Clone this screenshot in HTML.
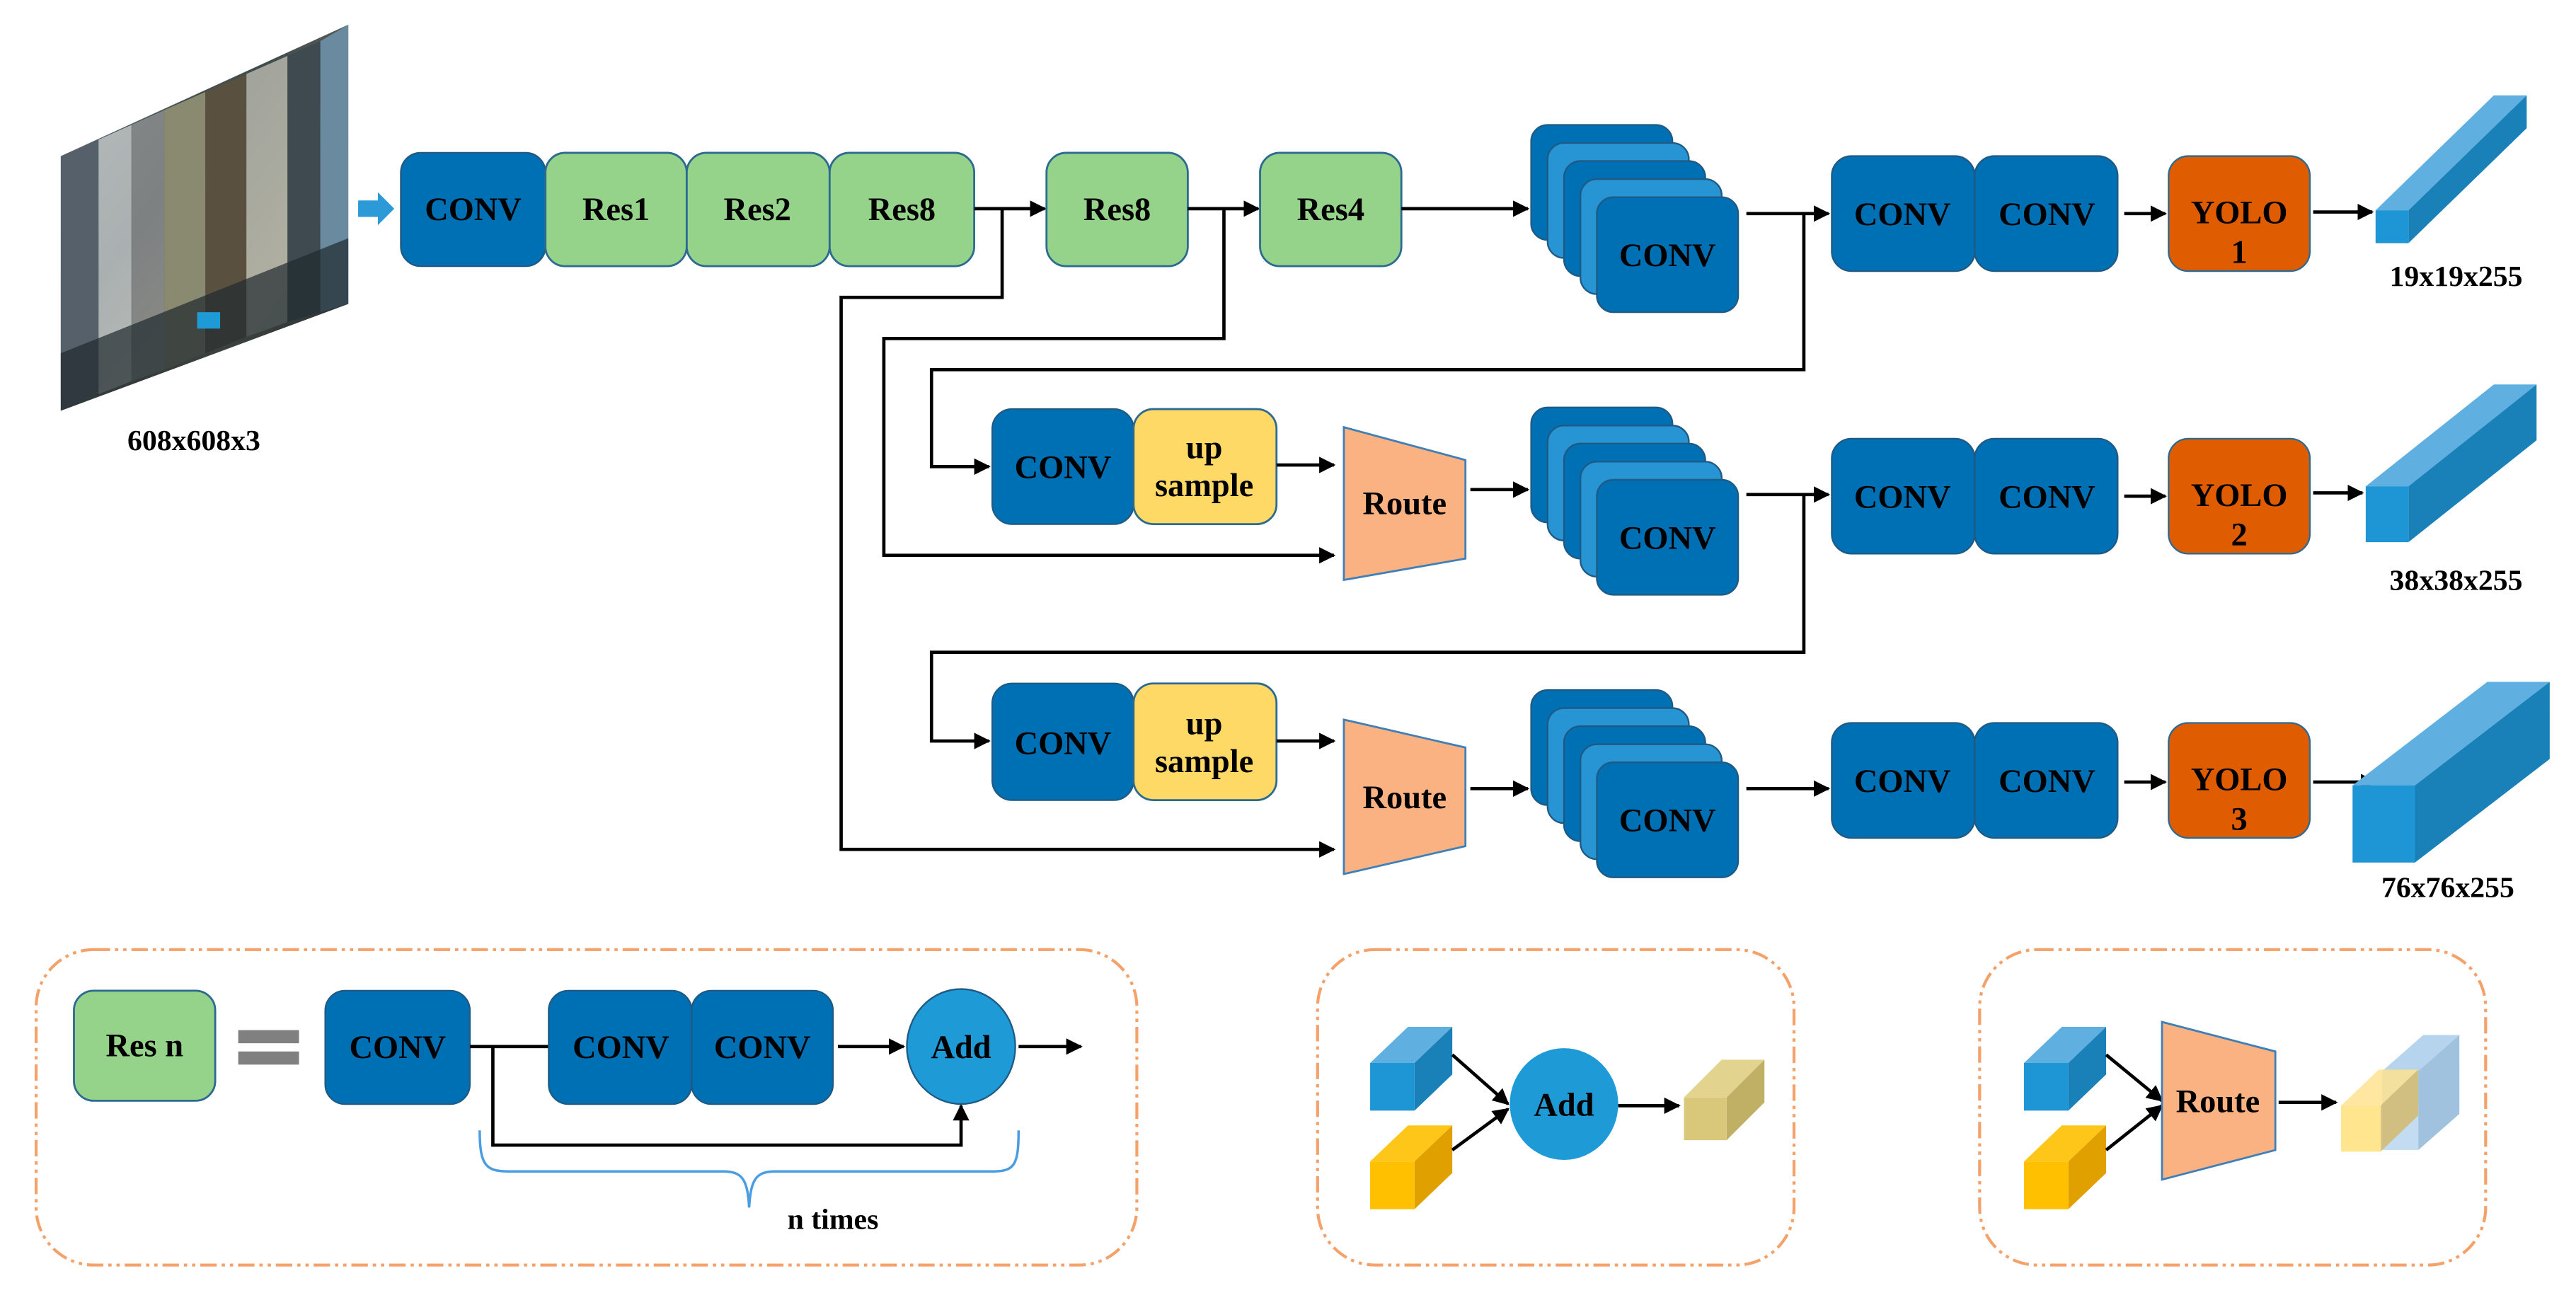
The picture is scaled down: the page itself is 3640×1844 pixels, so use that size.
<!DOCTYPE html>
<html><head><meta charset="utf-8"><style>
html,body{margin:0;padding:0;background:#fff;}
svg{display:block;}
text{font-family:"Liberation Serif",serif;font-weight:bold;fill:#000;}
</style></head><body>
<svg width="3640" height="1844" viewBox="0 0 1568 794.3" xmlns="http://www.w3.org/2000/svg">
<defs>
<marker id="ah" markerWidth="10" markerHeight="10" refX="9" refY="5" orient="auto" markerUnits="userSpaceOnUse">
<path d="M0,0 L10,5 L0,10 z" fill="#000"/></marker>
<linearGradient id="img" x1="0" y1="0" x2="1" y2="1">
<stop offset="0" stop-color="#6a7378"/><stop offset="0.4" stop-color="#3e4a4c"/><stop offset="0.7" stop-color="#7d7a66"/><stop offset="1" stop-color="#2a3234"/></linearGradient>
</defs>
<style>
.d{fill:#0070b5;stroke:#1f5a85;stroke-width:1;}
.l{fill:#2795d3;stroke:#1f5a85;stroke-width:1;}
.g{fill:#95d38a;stroke:#2c6a92;stroke-width:1.2;}
.y{fill:#ffd965;stroke:#2c6a92;stroke-width:1.2;}
.o{fill:#e05c00;stroke:#2c6a92;stroke-width:1;}
.r{fill:#fbb282;stroke:#3f7fb8;stroke-width:1.2;}
.ln{stroke:#000;stroke-width:2;fill:none;}
.t{font-size:20px;}
.lg{fill:none;stroke:#f4a16a;stroke-width:1.8;stroke-dasharray:10 3 2 3 2 3;}
</style>

<!-- input image -->
<polygon points="37,95 212,15 212,185 37,250" fill="url(#img)"/>
<polygon points="37,95 60,85 60,240 37,250" fill="#55606a"/>
<polygon points="60,85 80,76 80,232 60,240" fill="#d8dcdc" opacity="0.7"/>
<polygon points="80,76 100,67 100,225 80,232" fill="#999" opacity="0.7"/>
<polygon points="100,67 125,56 125,215 100,225" fill="#8a8a70"/>
<polygon points="125,56 150,45 150,205 125,215" fill="#5a5040"/>
<polygon points="150,45 175,34 175,196 150,205" fill="#bbbbb0" opacity="0.8"/>
<polygon points="175,34 195,25 195,190 175,196" fill="#3e4a50"/>
<polygon points="195,25 212,15 212,185 195,190" fill="#6a8aa0"/>
<polygon points="37,215 212,145 212,185 37,250" fill="#202a2e" opacity="0.7"/>
<rect x="120" y="190" width="14" height="10" fill="#1e9ad6"/>
<text x="118" y="274" text-anchor="middle" class="t" style="font-size:18px">608x608x3</text>
<polygon points="218,122 230,122 230,117 240,127 230,137 230,132 218,132" fill="#2d9ad8"/>

<!-- top row -->
<rect x="244" y="93" width="88" height="69" rx="12" class="d"/>
<rect x="332" y="93" width="86" height="69" rx="12" class="g"/>
<rect x="418" y="93" width="87" height="69" rx="12" class="g"/>
<rect x="505" y="93" width="88" height="69" rx="12" class="g"/>
<text x="288" y="134" text-anchor="middle" class="t">CONV</text>
<text x="375" y="134" text-anchor="middle" class="t">Res1</text>
<text x="461" y="134" text-anchor="middle" class="t">Res2</text>
<text x="549" y="134" text-anchor="middle" class="t">Res8</text>
<line x1="593" y1="127" x2="636" y2="127" class="ln" marker-end="url(#ah)"/>
<rect x="637" y="93" width="86" height="69" rx="12" class="g"/>
<text x="680" y="134" text-anchor="middle" class="t">Res8</text>
<line x1="723" y1="127" x2="766" y2="127" class="ln" marker-end="url(#ah)"/>
<rect x="767" y="93" width="86" height="69" rx="12" class="g"/>
<text x="810" y="134" text-anchor="middle" class="t">Res4</text>
<line x1="853" y1="127" x2="930" y2="127" class="ln" marker-end="url(#ah)"/>

<!-- branch lines -->
<polyline points="610,127 610,181 512,181 512,517 812,517" class="ln" marker-end="url(#ah)"/>
<polyline points="745,127 745,206 538,206 538,338 812,338" class="ln" marker-end="url(#ah)"/>
<polyline points="1098,130 1098,225 567,225 567,284 602,284" class="ln" marker-end="url(#ah)"/>
<polyline points="1098,301 1098,397 567,397 567,451 602,451" class="ln" marker-end="url(#ah)"/>

<!-- stacks -->
<g>
<rect x="932" y="76" width="86" height="70" rx="10" class="d"/>
<rect x="942" y="87" width="86" height="70" rx="10" class="l"/>
<rect x="952" y="98" width="86" height="70" rx="10" class="d"/>
<rect x="962" y="109" width="86" height="70" rx="10" class="l"/>
<rect x="972" y="120" width="86" height="70" rx="10" class="d"/>
<text x="1015" y="162" text-anchor="middle" class="t">CONV</text>
</g>
<g>
<rect x="932" y="248" width="86" height="70" rx="10" class="d"/>
<rect x="942" y="259" width="86" height="70" rx="10" class="l"/>
<rect x="952" y="270" width="86" height="70" rx="10" class="d"/>
<rect x="962" y="281" width="86" height="70" rx="10" class="l"/>
<rect x="972" y="292" width="86" height="70" rx="10" class="d"/>
<text x="1015" y="334" text-anchor="middle" class="t">CONV</text>
</g>
<g>
<rect x="932" y="420" width="86" height="70" rx="10" class="d"/>
<rect x="942" y="431" width="86" height="70" rx="10" class="l"/>
<rect x="952" y="442" width="86" height="70" rx="10" class="d"/>
<rect x="962" y="453" width="86" height="70" rx="10" class="l"/>
<rect x="972" y="464" width="86" height="70" rx="10" class="d"/>
<text x="1015" y="506" text-anchor="middle" class="t">CONV</text>
</g>

<!-- row 1 right -->
<line x1="1063" y1="130" x2="1113" y2="130" class="ln" marker-end="url(#ah)"/>
<rect x="1115" y="95" width="87" height="70" rx="12" class="d"/>
<rect x="1202" y="95" width="87" height="70" rx="12" class="d"/>
<text x="1158" y="137" text-anchor="middle" class="t">CONV</text>
<text x="1246" y="137" text-anchor="middle" class="t">CONV</text>
<line x1="1293" y1="130" x2="1318" y2="130" class="ln" marker-end="url(#ah)"/>
<rect x="1320" y="95" width="86" height="70" rx="12" class="o"/>
<text x="1363" y="136" text-anchor="middle" class="t">YOLO</text>
<text x="1363" y="160" text-anchor="middle" class="t">1</text>
<line x1="1408" y1="129" x2="1444" y2="129" class="ln" marker-end="url(#ah)"/>
<polygon points="1446,128 1518,58 1538,58 1466,128" fill="#5fb0e0"/>
<polygon points="1466,128 1538,58 1538,78 1466,148" fill="#1a80b8"/>
<rect x="1446" y="128" width="20" height="20" fill="#1e95d4"/>
<text x="1495" y="174" text-anchor="middle" class="t" style="font-size:18px">19x19x255</text>

<!-- row 2 -->
<rect x="604" y="249" width="86" height="70" rx="12" class="d"/>
<rect x="690" y="249" width="87" height="70" rx="12" class="y"/>
<text x="647" y="291" text-anchor="middle" class="t">CONV</text>
<text x="733" y="279" text-anchor="middle" class="t">up</text>
<text x="733" y="302" text-anchor="middle" class="t">sample</text>
<line x1="777" y1="283" x2="812" y2="283" class="ln" marker-end="url(#ah)"/>
<polygon points="818,260 892,280 892,340 818,353" class="r"/>
<text x="855" y="313" text-anchor="middle" class="t">Route</text>
<line x1="895" y1="298" x2="930" y2="298" class="ln" marker-end="url(#ah)"/>
<line x1="1063" y1="301" x2="1113" y2="301" class="ln" marker-end="url(#ah)"/>
<rect x="1115" y="267" width="87" height="70" rx="12" class="d"/>
<rect x="1202" y="267" width="87" height="70" rx="12" class="d"/>
<text x="1158" y="309" text-anchor="middle" class="t">CONV</text>
<text x="1246" y="309" text-anchor="middle" class="t">CONV</text>
<line x1="1293" y1="302" x2="1318" y2="302" class="ln" marker-end="url(#ah)"/>
<rect x="1320" y="267" width="86" height="70" rx="12" class="o"/>
<text x="1363" y="308" text-anchor="middle" class="t">YOLO</text>
<text x="1363" y="332" text-anchor="middle" class="t">2</text>
<line x1="1408" y1="300" x2="1438" y2="300" class="ln" marker-end="url(#ah)"/>
<polygon points="1440,296 1518,234 1544,234 1466,296" fill="#5fb0e0"/>
<polygon points="1466,296 1544,234 1544,268 1466,330" fill="#1a80b8"/>
<rect x="1440" y="296" width="26" height="34" fill="#1e95d4"/>
<text x="1495" y="359" text-anchor="middle" class="t" style="font-size:18px">38x38x255</text>

<!-- row 3 -->
<rect x="604" y="416" width="86" height="71" rx="12" class="d"/>
<rect x="690" y="416" width="87" height="71" rx="12" class="y"/>
<text x="647" y="459" text-anchor="middle" class="t">CONV</text>
<text x="733" y="447" text-anchor="middle" class="t">up</text>
<text x="733" y="470" text-anchor="middle" class="t">sample</text>
<line x1="777" y1="451" x2="812" y2="451" class="ln" marker-end="url(#ah)"/>
<polygon points="818,438 892,455 892,515 818,532" class="r"/>
<text x="855" y="492" text-anchor="middle" class="t">Route</text>
<line x1="895" y1="480" x2="930" y2="480" class="ln" marker-end="url(#ah)"/>
<line x1="1063" y1="480" x2="1113" y2="480" class="ln" marker-end="url(#ah)"/>
<rect x="1115" y="440" width="87" height="70" rx="12" class="d"/>
<rect x="1202" y="440" width="87" height="70" rx="12" class="d"/>
<text x="1158" y="482" text-anchor="middle" class="t">CONV</text>
<text x="1246" y="482" text-anchor="middle" class="t">CONV</text>
<line x1="1293" y1="476" x2="1318" y2="476" class="ln" marker-end="url(#ah)"/>
<rect x="1320" y="440" width="86" height="70" rx="12" class="o"/>
<text x="1363" y="481" text-anchor="middle" class="t">YOLO</text>
<text x="1363" y="505" text-anchor="middle" class="t">3</text>
<line x1="1408" y1="476" x2="1446" y2="476" class="ln" marker-end="url(#ah)"/>
<polygon points="1432,478 1514,415 1552,415 1470,478" fill="#5fb0e0"/>
<polygon points="1470,478 1552,415 1552,462 1470,525" fill="#1a80b8"/>
<rect x="1432" y="478" width="38" height="47" fill="#1e95d4"/>
<text x="1490" y="546" text-anchor="middle" class="t" style="font-size:18px">76x76x255</text>

<!-- legend 1 -->
<rect x="22" y="578" width="670" height="192" rx="35" class="lg"/>
<rect x="45" y="603" width="86" height="67" rx="12" class="g"/>
<text x="88" y="643" text-anchor="middle" class="t">Res n</text>
<rect x="145" y="627" width="37" height="8" fill="#808080"/>
<rect x="145" y="640" width="37" height="8" fill="#808080"/>
<rect x="198" y="603" width="88" height="69" rx="12" class="d"/>
<text x="242" y="644" text-anchor="middle" class="t">CONV</text>
<line x1="286" y1="637" x2="334" y2="637" class="ln"/>
<rect x="334" y="603" width="87" height="69" rx="12" class="d"/>
<rect x="421" y="603" width="86" height="69" rx="12" class="d"/>
<text x="378" y="644" text-anchor="middle" class="t">CONV</text>
<text x="464" y="644" text-anchor="middle" class="t">CONV</text>
<line x1="510" y1="637" x2="550" y2="637" class="ln" marker-end="url(#ah)"/>
<ellipse cx="585" cy="637" rx="33" ry="35" fill="#1e9ad6" stroke="#1f5a85" stroke-width="1"/>
<text x="585" y="644" text-anchor="middle" class="t">Add</text>
<line x1="620" y1="637" x2="658" y2="637" class="ln" marker-end="url(#ah)"/>
<polyline points="300,637 300,697 585,697 585,673" class="ln" marker-end="url(#ah)"/>
<path d="M292,688 C292,710 296,713 310,713 L440,713 C452,713 455,718 456,735 C457,718 460,713 472,713 L605,713 C618,713 620,708 620,688" fill="none" stroke="#4a9de0" stroke-width="1.5"/>
<text x="507" y="748" text-anchor="middle" class="t" style="font-size:18px">n times</text>

<!-- legend 2 -->
<rect x="802" y="578" width="290" height="192" rx="35" class="lg"/>
<polygon points="834,647 857,625 884,625 861,647" fill="#5fb0e0"/>
<polygon points="861,647 884,625 884,654 861,676" fill="#1a80b8"/>
<rect x="834" y="647" width="27" height="29" fill="#1e95d4"/>
<polygon points="834,707 857,685 884,685 861,707" fill="#ffc61a"/>
<polygon points="861,707 884,685 884,714 861,736" fill="#e0a000"/>
<rect x="834" y="707" width="27" height="29" fill="#ffc000"/>
<line x1="884" y1="642" x2="918" y2="672" class="ln" marker-end="url(#ah)"/>
<line x1="884" y1="700" x2="918" y2="675" class="ln" marker-end="url(#ah)"/>
<ellipse cx="952" cy="672" rx="33" ry="34" fill="#1e9ad6"/>
<text x="952" y="679" text-anchor="middle" class="t">Add</text>
<line x1="985" y1="673" x2="1022" y2="673" class="ln" marker-end="url(#ah)"/>
<polygon points="1025,668 1048,645 1074,645 1051,668" fill="#e2d38e"/>
<polygon points="1051,668 1074,645 1074,671 1051,694" fill="#bfb066"/>
<rect x="1025" y="668" width="26" height="26" fill="#d9c77a"/>

<!-- legend 3 -->
<rect x="1205" y="578" width="308" height="192" rx="35" class="lg"/>
<polygon points="1232,647 1255,625 1282,625 1259,647" fill="#5fb0e0"/>
<polygon points="1259,647 1282,625 1282,654 1259,676" fill="#1a80b8"/>
<rect x="1232" y="647" width="27" height="29" fill="#1e95d4"/>
<polygon points="1232,707 1255,685 1282,685 1259,707" fill="#ffc61a"/>
<polygon points="1259,707 1282,685 1282,714 1259,736" fill="#e0a000"/>
<rect x="1232" y="707" width="27" height="29" fill="#ffc000"/>
<line x1="1282" y1="642" x2="1316" y2="670" class="ln" marker-end="url(#ah)"/>
<line x1="1282" y1="700" x2="1316" y2="673" class="ln" marker-end="url(#ah)"/>
<polygon points="1316,622 1385,640 1385,700 1316,718" class="r"/>
<text x="1350" y="677" text-anchor="middle" class="t">Route</text>
<line x1="1387" y1="671" x2="1422" y2="671" class="ln" marker-end="url(#ah)"/>
<polygon points="1450,652 1475,630 1497,630 1472,652" fill="#a9cdea" opacity="0.85"/>
<polygon points="1472,652 1497,630 1497,678 1472,700" fill="#8fb7d8" opacity="0.85"/>
<rect x="1450" y="652" width="22" height="48" fill="#b8d6ee" opacity="0.85"/>
<polygon points="1425,673 1448,651 1472,651 1449,673" fill="#ffe08a" opacity="0.8"/>
<polygon points="1449,673 1472,651 1472,679 1449,701" fill="#d4b866" opacity="0.8"/>
<rect x="1425" y="673" width="24" height="28" fill="#ffe07a" opacity="0.85"/>
</svg>
</body></html>
